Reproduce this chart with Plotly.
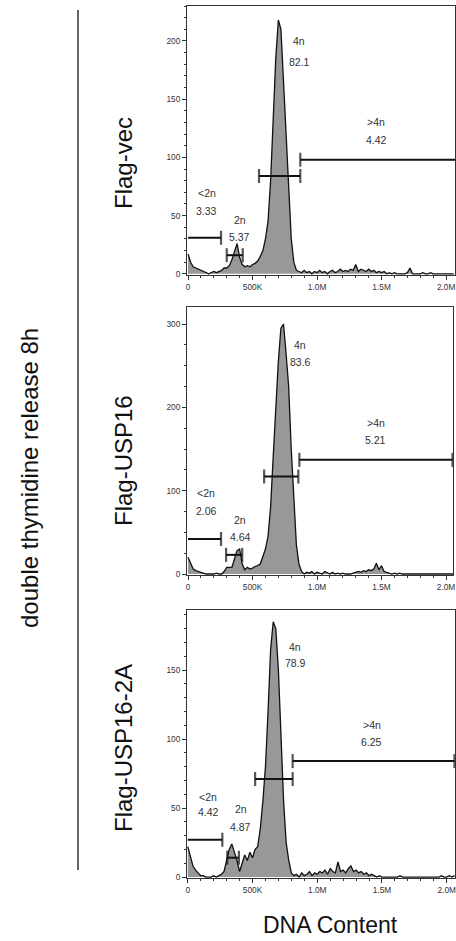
import plotly.graph_objects as go

W, H = 456, 941

# DNA content bins (K units) and histogram counts per panel
dna_k = list(range(0, 2080, 20))

flag_vec = [
    17, 10, 6, 5, 4, 3, 2, 1, 0, 1,
    2, 1, 2, 3, 5, 5, 7, 12, 19, 26,
    14, 8, 6, 7, 6, 8, 9, 11, 15, 20,
    30, 45, 80, 130, 185, 218, 210, 165, 120, 70,
    30, 10, 3, 2, 1, 3, 1, 2, 0, 2,
    1, 3, 1, 2, 0, 2, 3, 1, 2, 4,
    2, 3, 2, 4, 3, 8, 2, 4, 3, 2,
    4, 2, 3, 1, 2, 1, 2, 0, 1, 0,
    1, 0, 0, 0, 0, 1, 5, 0, 0, 0,
    0, 1, 0, 0, 1, 0, 0, 0, 0, 0,
    0, 0, 0, 0,
]
flag_usp16 = [
    20, 12, 6, 4, 3, 2, 1, 0, 0, 0,
    0, 1, 0, 0, 3, 8, 8, 8, 18, 28,
    30, 12, 5, 8, 6, 7, 9, 10, 12, 20,
    30, 45, 80, 140, 200, 255, 295, 300, 265, 225,
    150, 85, 35, 12, 3, 0, 2, 1, 3, 0,
    2, 1, 0, 3, 1, 0, 2, 0, 1, 0,
    1, 0, 0, 0, 1, 2, 3, 2, 4, 3,
    5, 4, 6, 13, 5, 10, 3, 2, 1, 0,
    1, 0, 1, 0, 0, 0, 0, 0, 0, 0,
    0, 0, 0, 0, 0, 0, 0, 0, 0, 0,
    0, 0, 0, 0,
]
flag_usp16_2a = [
    22, 15, 8, 5, 3, 1, 1, 0, 0, 0,
    1, 0, 1, 2, 4, 12, 20, 24, 18, 12,
    4, 10, 16, 12, 18, 14, 20, 22, 35, 55,
    80, 120, 165, 185, 180, 150, 100, 55, 25, 12,
    3, 1, 2, 0, 3, 1, 2, 4, 1, 3,
    2, 4, 3, 5, 2, 6, 4, 3, 11, 4,
    5, 3, 6, 8, 4, 5, 3, 4, 2, 3,
    1, 2, 1, 0, 1, 0, 0, 0, 0, 0,
    0, 0, 1, 0, 0, 0, 0, 0, 0, 0,
    0, 0, 0, 0, 0, 0, 0, 0, 1, 0,
    0, 1, 0, 1,
]

sample_names = ["Flag-vec", "Flag-USP16", "Flag-USP16-2A"]
series = [flag_vec, flag_usp16, flag_usp16_2a]

gate_names = ["<2n", "2n", "4n", ">4n"]
# gate ranges (K) and heights per panel
gate_start = [[0, 300, 550, 870], [0, 295, 590, 863], [0, 305, 520, 810]]
gate_end = [[256, 424, 870, 2070], [256, 420, 855, 2050], [267, 395, 810, 2060]]
gate_y = [[31, 16, 84, 98], [42, 23, 117, 137], [27, 14, 71, 84]]
gate_pct = [["3.33", "5.37", "82.1", "4.42"], ["2.06", "4.64", "83.6", "5.21"], ["4.42", "4.87", "78.9", "6.25"]]
# label positions (K, count): name line and percent line
label_x = [[145, 400, 860, 1460], [140, 405, 870, 1455], [160, 410, 830, 1420]]
label_name_y = [[69, 46, 200, 130], [97, 65, 275, 181], [58, 49, 167, 110]]
label_pct_y = [[54, 31.5, 182, 115], [76, 44, 255, 161], [47, 36, 155, 98]]

y_ticks = [[0, 50, 100, 150, 200], [0, 100, 200, 300], [0, 50, 100, 150]]
y_minor = [10, 25, 10]
x_ticks = [0, 500, 1000, 1500, 2000]
x_ticktext = ["0", "500K", "1.0M", "1.5M", "2.0M"]

# layout geometry (pixels)
box_left = [187, 187, 187]
box_right = [455, 453, 455]
box_top = [6, 307, 610]
box_bottom = [275, 575, 878]
x_ranges = [[-8, 2069], [-8, 2054], [-6, 2064]]
y_ranges = [[-1, 230], [-1.2, 320.5], [-0.7, 193.5]]

FONT = "Liberation Sans, Arial, sans-serif"
fig = go.Figure()

for i in range(3):
    xa = "x" if i == 0 else f"x{i+1}"
    ya = "y" if i == 0 else f"y{i+1}"
    fig.add_trace(go.Scatter(
        x=dna_k, y=series[i], mode="lines", fill="tozeroy",
        fillcolor="#989898", line=dict(color="#111", width=1.3),
        xaxis=xa, yaxis=ya, showlegend=False, hoverinfo="skip"))
    for g in range(4):
        x0, x1, gy = gate_start[i][g], gate_end[i][g], gate_y[i][g]
        fig.add_trace(go.Scatter(
            x=[x0, x1], y=[gy, gy], mode="lines+markers",
            line=dict(color="#111", width=2),
            marker=dict(symbol="line-ns", size=[0 if x0 == 0 else 10, 10],
                        line=dict(color="#111", width=2.2)),
            xaxis=xa, yaxis=ya, showlegend=False, hoverinfo="skip", cliponaxis=False))
        name = gate_names[g].replace("<", "&lt;").replace(">", "&gt;")
        for txt, yy in [(name, label_name_y[i][g]), (gate_pct[i][g], label_pct_y[i][g])]:
            fig.add_annotation(x=label_x[i][g], y=yy, xref=xa, yref=ya, text=txt,
                               xanchor="center", yanchor="middle",
                               showarrow=False, font=dict(family=FONT, size=10.5, color="#333"))

    axis_common = dict(showgrid=False, zeroline=False, showline=True, linecolor="#333",
                       linewidth=1, mirror=True, ticks="outside", ticklen=4, tickwidth=1,
                       tickcolor="#333", automargin=False, ticklabeloverflow="allow",
                       tickfont=dict(family=FONT, size=8.3, color="#333"))
    fig.layout[f"xaxis{'' if i == 0 else i+1}"] = dict(
        domain=[box_left[i] / W, box_right[i] / W], range=x_ranges[i],
        anchor=ya, tickvals=x_ticks, ticktext=x_ticktext,
        minor=dict(dtick=100, tick0=0, ticklen=2, ticks="outside", tickcolor="#333"),
        **axis_common)
    fig.layout[f"yaxis{'' if i == 0 else i+1}"] = dict(
        domain=[1 - box_bottom[i] / H, 1 - box_top[i] / H], range=y_ranges[i],
        anchor=xa, tickvals=y_ticks[i],
        minor=dict(dtick=y_minor[i], tick0=0, ticklen=2, ticks="outside", tickcolor="#333"),
        **axis_common)

# side labels
side_y = [163, 461, 748]
for name, py in zip(sample_names, side_y):
    fig.add_annotation(x=123 / W, y=1 - py / H, xref="paper", yref="paper", text=name,
                       textangle=-90, showarrow=False, xanchor="center", yanchor="middle",
                       font=dict(family=FONT, size=24, color="#111"))
fig.add_annotation(x=29 / W, y=1 - 478 / H, xref="paper", yref="paper",
                   text="double thymidine release 8h", textangle=-90, showarrow=False,
                   xanchor="center", yanchor="middle",
                   font=dict(family=FONT, size=24, color="#111"))
fig.add_shape(type="line", xref="paper", yref="paper", x0=78 / W, x1=78 / W,
              y0=1 - 10 / H, y1=1 - 870 / H, line=dict(color="#333", width=1.5))
fig.add_annotation(x=330 / W, y=0.001, xref="paper", yref="paper", text="DNA Content",
                   showarrow=False, xanchor="center", yanchor="bottom",
                   font=dict(family=FONT, size=23, color="#111"))

fig.update_layout(width=W, height=H, margin=dict(l=0, r=0, t=0, b=0),
                  paper_bgcolor="white", plot_bgcolor="white")
fig.write_html("out.html", config={"displayModeBar": False},
               post_script="document.body.style.margin='0';document.body.style.overflow='hidden';")
